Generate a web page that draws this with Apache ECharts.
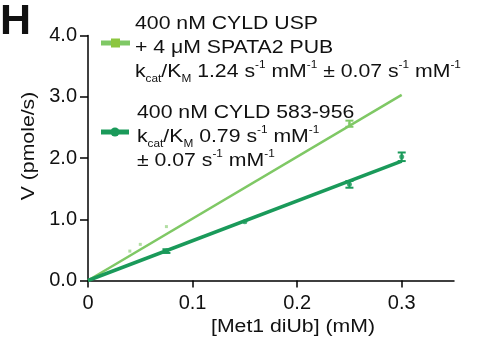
<!DOCTYPE html>
<html><head><meta charset="utf-8">
<script src="https://cdn.jsdelivr.net/npm/echarts@6/dist/echarts.min.js"></script>
<style>html,body{margin:0;padding:0;background:#fff}#c{width:480px;height:340px}</style>
</head><body><div id="c"></div>
<script>
// Data
const xTicks = [0, 0.1, 0.2, 0.3];
const yTicks = [0, 1, 2, 3, 4];
// 400 nM CYLD USP + 4 uM SPATA2 PUB
const uspX = [0.04, 0.05, 0.075, 0.25];
const uspY = [0.48, 0.59, 0.88, 2.56];
const uspErr = [0, 0, 0, 0.05];
const uspFitX = [0, 0.3];
const uspFitY = [0, 3.03];
// 400 nM CYLD 583-956
const cyldX = [0.075, 0.15, 0.25, 0.3];
const cyldY = [0.48, 0.96, 1.57, 2.02];
const cyldErr = [0.03, 0, 0.055, 0.07];
const cyldFitX = [0, 0.3];
const cyldFitY = [0, 1.95];

const LIGHT = '#7fc865';
const DARK = '#1a9a5a';
const FONT = 'Liberation Sans, Arial, Helvetica, sans-serif';
const SX = 1.18;

function pairs(xs, ys){ return xs.map((x,i)=>[x, ys[i]]); }
function errData(xs, ys, es){ return xs.map((x,i)=>[x, ys[i]-es[i], ys[i]+es[i]]).filter((d,i)=>es[i]>0); }
function errSeries(data, color){
  return {
    type: 'custom', data: data, z: 5,
    renderItem: function(params, api){
      const x = api.value(0), lo = api.value(1), hi = api.value(2);
      const pLo = api.coord([x, lo]), pHi = api.coord([x, hi]);
      const w = 4;
      const st = {stroke: color, lineWidth: 2};
      return {type: 'group', children: [
        {type:'line', shape:{x1:pLo[0], y1:pLo[1], x2:pHi[0], y2:pHi[1]}, style: st},
        {type:'line', shape:{x1:pLo[0]-w, y1:pLo[1], x2:pLo[0]+w, y2:pLo[1]}, style: st},
        {type:'line', shape:{x1:pHi[0]-w, y1:pHi[1], x2:pHi[0]+w, y2:pHi[1]}, style: st}
      ]};
    }
  };
}

const rich = {
  n: {fontSize: 18, fontFamily: FONT, color: '#111', lineHeight: 24},
  sub: {fontSize: 10, fontFamily: FONT, color: '#111', verticalAlign: 'bottom', padding: [10,0,0,0], lineHeight: 24},
  sup: {fontSize: 10, fontFamily: FONT, color: '#111', verticalAlign: 'top', padding: [0,0,9,0], lineHeight: 24}
};

const chart = echarts.init(document.getElementById('c'), null, {renderer: 'canvas'});
chart.setOption({
  animation: false,
  backgroundColor: '#fff',
  grid: {left: 88, right: 26, top: 35.5, bottom: 59.5},
  xAxis: {
    type: 'value', min: 0, max: 0.35, interval: 0.1,
    axisLine: {show: true, onZero: false, lineStyle: {color: '#000', width: 1.5}},
    axisTick: {show: true, length: 7, lineStyle: {color: '#000', width: 1.5}, customValues: xTicks},
    axisLabel: {fontSize: 20, fontFamily: FONT, color: '#111', margin: 13, customValues: xTicks,
      formatter: v => v === 0 ? '0' : String(+v.toFixed(2))},
    splitLine: {show: false}
  },
  yAxis: {
    type: 'value', min: 0, max: 4, interval: 1,
    axisLine: {show: true, onZero: false, lineStyle: {color: '#000', width: 1.5}},
    axisTick: {show: true, length: 8, lineStyle: {color: '#000', width: 1.5}, customValues: yTicks},
    axisLabel: {fontSize: 20, fontFamily: FONT, color: '#111', margin: 11, customValues: yTicks,
      formatter: v => v.toFixed(1)},
    splitLine: {show: false}
  },
  graphic: [
    {type: 'text', x: 0, y: 1, style: {text: 'H', fontSize: 43, fontWeight: 'bold', fontFamily: FONT, fill: '#111'}},
    {type: 'text', x: 293, y: 327, scaleX: SX, style: {text: '[Met1 diUb] (mM)', fontSize: 18, fontFamily: FONT, fill: '#111', align: 'center', verticalAlign: 'middle'}},
    {type: 'text', x: 29, y: 146, rotation: Math.PI/2, scaleX: SX, style: {text: 'V (pmole/s)', fontSize: 18, fontFamily: FONT, fill: '#111', align: 'center', verticalAlign: 'middle'}},
    {type: 'line', shape: {x1: 101, y1: 43, x2: 130, y2: 43}, style: {stroke: LIGHT, lineWidth: 5}, z: 10},
    {type: 'rect', shape: {x: 111, y: 38.5, width: 9, height: 9}, style: {fill: '#8cc63f'}, z: 11},
    {type: 'text', x: 135, y: 12, scaleX: SX, z: 10, style: {
      text: '{n|400 nM CYLD USP}\n{n|+ 4 μM SPATA2 PUB}\n{n|k}{sub|cat}{n|/K}{sub|M}{n| 1.24 s}{sup|-1}{n| mM}{sup|-1}{n| ± 0.07 s}{sup|-1}{n| mM}{sup|-1}',
      rich: rich, fill: '#111'}},
    {type: 'line', shape: {x1: 101, y1: 132, x2: 129, y2: 132}, style: {stroke: DARK, lineWidth: 5}, z: 10},
    {type: 'circle', shape: {cx: 115, cy: 132, r: 4.5}, style: {fill: DARK}, z: 11},
    {type: 'text', x: 137, y: 101, scaleX: SX, z: 10, style: {
      text: '{n|400 nM CYLD 583-956}\n{n|k}{sub|cat}{n|/K}{sub|M}{n| 0.79 s}{sup|-1}{n| mM}{sup|-1}\n{n|± 0.07 s}{sup|-1}{n| mM}{sup|-1}',
      rich: rich, fill: '#111'}}
  ],
  series: [
    {type: 'line', data: pairs(uspFitX, uspFitY), symbol: 'none', lineStyle: {color: LIGHT, width: 2.5}, z: 3},
    {type: 'line', data: pairs(cyldFitX, cyldFitY), symbol: 'none', lineStyle: {color: DARK, width: 3.5}, z: 4},
    {type: 'scatter', data: pairs(uspX, uspY), symbol: 'rect', symbolSize: 3, itemStyle: {color: LIGHT, opacity: 0.6}, z: 2},
    {type: 'scatter', data: pairs(cyldX, cyldY), symbol: 'circle', symbolSize: 5, itemStyle: {color: DARK}, z: 5},
    errSeries(errData(uspX, uspY, uspErr), LIGHT),
    errSeries(errData(cyldX, cyldY, cyldErr), DARK)
  ]
});
</script></body></html>
